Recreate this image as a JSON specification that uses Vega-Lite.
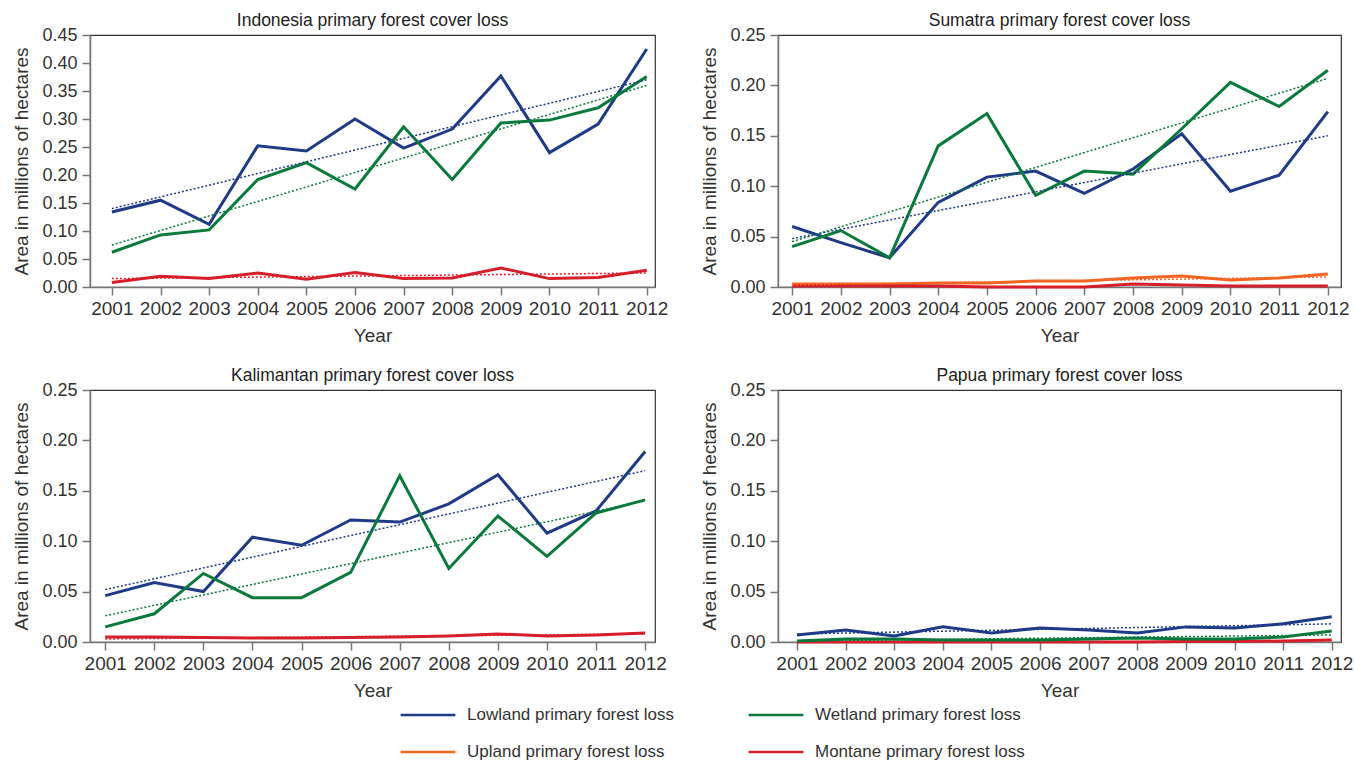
{
  "$schema": "https://vega.github.io/schema/vega-lite/v6.json",
  "background": "white",
  "padding": {"left": 12, "top": 10, "right": 5, "bottom": 0},
  "datasets": {
    "obs": [
      {"region": "Indonesia", "series": "Lowland primary forest loss", "year": 2001, "value": 0.134},
      {"region": "Indonesia", "series": "Lowland primary forest loss", "year": 2002, "value": 0.155},
      {"region": "Indonesia", "series": "Lowland primary forest loss", "year": 2003, "value": 0.112},
      {"region": "Indonesia", "series": "Lowland primary forest loss", "year": 2004, "value": 0.252},
      {"region": "Indonesia", "series": "Lowland primary forest loss", "year": 2005, "value": 0.243},
      {"region": "Indonesia", "series": "Lowland primary forest loss", "year": 2006, "value": 0.300},
      {"region": "Indonesia", "series": "Lowland primary forest loss", "year": 2007, "value": 0.248},
      {"region": "Indonesia", "series": "Lowland primary forest loss", "year": 2008, "value": 0.282},
      {"region": "Indonesia", "series": "Lowland primary forest loss", "year": 2009, "value": 0.377},
      {"region": "Indonesia", "series": "Lowland primary forest loss", "year": 2010, "value": 0.240},
      {"region": "Indonesia", "series": "Lowland primary forest loss", "year": 2011, "value": 0.291},
      {"region": "Indonesia", "series": "Lowland primary forest loss", "year": 2012, "value": 0.425},
      {"region": "Indonesia", "series": "Wetland primary forest loss", "year": 2001, "value": 0.062},
      {"region": "Indonesia", "series": "Wetland primary forest loss", "year": 2002, "value": 0.093},
      {"region": "Indonesia", "series": "Wetland primary forest loss", "year": 2003, "value": 0.102},
      {"region": "Indonesia", "series": "Wetland primary forest loss", "year": 2004, "value": 0.192},
      {"region": "Indonesia", "series": "Wetland primary forest loss", "year": 2005, "value": 0.222},
      {"region": "Indonesia", "series": "Wetland primary forest loss", "year": 2006, "value": 0.175},
      {"region": "Indonesia", "series": "Wetland primary forest loss", "year": 2007, "value": 0.286},
      {"region": "Indonesia", "series": "Wetland primary forest loss", "year": 2008, "value": 0.192},
      {"region": "Indonesia", "series": "Wetland primary forest loss", "year": 2009, "value": 0.293},
      {"region": "Indonesia", "series": "Wetland primary forest loss", "year": 2010, "value": 0.298},
      {"region": "Indonesia", "series": "Wetland primary forest loss", "year": 2011, "value": 0.320},
      {"region": "Indonesia", "series": "Wetland primary forest loss", "year": 2012, "value": 0.376},
      {"region": "Indonesia", "series": "Montane primary forest loss", "year": 2001, "value": 0.008},
      {"region": "Indonesia", "series": "Montane primary forest loss", "year": 2002, "value": 0.019},
      {"region": "Indonesia", "series": "Montane primary forest loss", "year": 2003, "value": 0.015},
      {"region": "Indonesia", "series": "Montane primary forest loss", "year": 2004, "value": 0.025},
      {"region": "Indonesia", "series": "Montane primary forest loss", "year": 2005, "value": 0.014},
      {"region": "Indonesia", "series": "Montane primary forest loss", "year": 2006, "value": 0.026},
      {"region": "Indonesia", "series": "Montane primary forest loss", "year": 2007, "value": 0.015},
      {"region": "Indonesia", "series": "Montane primary forest loss", "year": 2008, "value": 0.016},
      {"region": "Indonesia", "series": "Montane primary forest loss", "year": 2009, "value": 0.034},
      {"region": "Indonesia", "series": "Montane primary forest loss", "year": 2010, "value": 0.015},
      {"region": "Indonesia", "series": "Montane primary forest loss", "year": 2011, "value": 0.017},
      {"region": "Indonesia", "series": "Montane primary forest loss", "year": 2012, "value": 0.030},

      {"region": "Sumatra", "series": "Upland primary forest loss", "year": 2001, "value": 0.003},
      {"region": "Sumatra", "series": "Upland primary forest loss", "year": 2002, "value": 0.003},
      {"region": "Sumatra", "series": "Upland primary forest loss", "year": 2003, "value": 0.003},
      {"region": "Sumatra", "series": "Upland primary forest loss", "year": 2004, "value": 0.004},
      {"region": "Sumatra", "series": "Upland primary forest loss", "year": 2005, "value": 0.004},
      {"region": "Sumatra", "series": "Upland primary forest loss", "year": 2006, "value": 0.006},
      {"region": "Sumatra", "series": "Upland primary forest loss", "year": 2007, "value": 0.006},
      {"region": "Sumatra", "series": "Upland primary forest loss", "year": 2008, "value": 0.009},
      {"region": "Sumatra", "series": "Upland primary forest loss", "year": 2009, "value": 0.011},
      {"region": "Sumatra", "series": "Upland primary forest loss", "year": 2010, "value": 0.007},
      {"region": "Sumatra", "series": "Upland primary forest loss", "year": 2011, "value": 0.009},
      {"region": "Sumatra", "series": "Upland primary forest loss", "year": 2012, "value": 0.013},
      {"region": "Sumatra", "series": "Montane primary forest loss", "year": 2001, "value": 0.001},
      {"region": "Sumatra", "series": "Montane primary forest loss", "year": 2002, "value": 0.001},
      {"region": "Sumatra", "series": "Montane primary forest loss", "year": 2003, "value": 0.001},
      {"region": "Sumatra", "series": "Montane primary forest loss", "year": 2004, "value": 0.001},
      {"region": "Sumatra", "series": "Montane primary forest loss", "year": 2005, "value": 0.0},
      {"region": "Sumatra", "series": "Montane primary forest loss", "year": 2006, "value": 0.0},
      {"region": "Sumatra", "series": "Montane primary forest loss", "year": 2007, "value": 0.0},
      {"region": "Sumatra", "series": "Montane primary forest loss", "year": 2008, "value": 0.003},
      {"region": "Sumatra", "series": "Montane primary forest loss", "year": 2009, "value": 0.002},
      {"region": "Sumatra", "series": "Montane primary forest loss", "year": 2010, "value": 0.001},
      {"region": "Sumatra", "series": "Montane primary forest loss", "year": 2011, "value": 0.001},
      {"region": "Sumatra", "series": "Montane primary forest loss", "year": 2012, "value": 0.001},
      {"region": "Sumatra", "series": "Lowland primary forest loss", "year": 2001, "value": 0.060},
      {"region": "Sumatra", "series": "Lowland primary forest loss", "year": 2002, "value": 0.044},
      {"region": "Sumatra", "series": "Lowland primary forest loss", "year": 2003, "value": 0.029},
      {"region": "Sumatra", "series": "Lowland primary forest loss", "year": 2004, "value": 0.084},
      {"region": "Sumatra", "series": "Lowland primary forest loss", "year": 2005, "value": 0.109},
      {"region": "Sumatra", "series": "Lowland primary forest loss", "year": 2006, "value": 0.115},
      {"region": "Sumatra", "series": "Lowland primary forest loss", "year": 2007, "value": 0.093},
      {"region": "Sumatra", "series": "Lowland primary forest loss", "year": 2008, "value": 0.117},
      {"region": "Sumatra", "series": "Lowland primary forest loss", "year": 2009, "value": 0.152},
      {"region": "Sumatra", "series": "Lowland primary forest loss", "year": 2010, "value": 0.095},
      {"region": "Sumatra", "series": "Lowland primary forest loss", "year": 2011, "value": 0.111},
      {"region": "Sumatra", "series": "Lowland primary forest loss", "year": 2012, "value": 0.174},
      {"region": "Sumatra", "series": "Wetland primary forest loss", "year": 2001, "value": 0.040},
      {"region": "Sumatra", "series": "Wetland primary forest loss", "year": 2002, "value": 0.056},
      {"region": "Sumatra", "series": "Wetland primary forest loss", "year": 2003, "value": 0.029},
      {"region": "Sumatra", "series": "Wetland primary forest loss", "year": 2004, "value": 0.140},
      {"region": "Sumatra", "series": "Wetland primary forest loss", "year": 2005, "value": 0.172},
      {"region": "Sumatra", "series": "Wetland primary forest loss", "year": 2006, "value": 0.091},
      {"region": "Sumatra", "series": "Wetland primary forest loss", "year": 2007, "value": 0.115},
      {"region": "Sumatra", "series": "Wetland primary forest loss", "year": 2008, "value": 0.112},
      {"region": "Sumatra", "series": "Wetland primary forest loss", "year": 2009, "value": 0.157},
      {"region": "Sumatra", "series": "Wetland primary forest loss", "year": 2010, "value": 0.203},
      {"region": "Sumatra", "series": "Wetland primary forest loss", "year": 2011, "value": 0.179},
      {"region": "Sumatra", "series": "Wetland primary forest loss", "year": 2012, "value": 0.215},

      {"region": "Kalimantan", "series": "Montane primary forest loss", "year": 2001, "value": 0.005},
      {"region": "Kalimantan", "series": "Montane primary forest loss", "year": 2002, "value": 0.005},
      {"region": "Kalimantan", "series": "Montane primary forest loss", "year": 2003, "value": 0.0045},
      {"region": "Kalimantan", "series": "Montane primary forest loss", "year": 2004, "value": 0.004},
      {"region": "Kalimantan", "series": "Montane primary forest loss", "year": 2005, "value": 0.004},
      {"region": "Kalimantan", "series": "Montane primary forest loss", "year": 2006, "value": 0.0045},
      {"region": "Kalimantan", "series": "Montane primary forest loss", "year": 2007, "value": 0.005},
      {"region": "Kalimantan", "series": "Montane primary forest loss", "year": 2008, "value": 0.006},
      {"region": "Kalimantan", "series": "Montane primary forest loss", "year": 2009, "value": 0.008},
      {"region": "Kalimantan", "series": "Montane primary forest loss", "year": 2010, "value": 0.006},
      {"region": "Kalimantan", "series": "Montane primary forest loss", "year": 2011, "value": 0.007},
      {"region": "Kalimantan", "series": "Montane primary forest loss", "year": 2012, "value": 0.009},
      {"region": "Kalimantan", "series": "Lowland primary forest loss", "year": 2001, "value": 0.046},
      {"region": "Kalimantan", "series": "Lowland primary forest loss", "year": 2002, "value": 0.059},
      {"region": "Kalimantan", "series": "Lowland primary forest loss", "year": 2003, "value": 0.050},
      {"region": "Kalimantan", "series": "Lowland primary forest loss", "year": 2004, "value": 0.104},
      {"region": "Kalimantan", "series": "Lowland primary forest loss", "year": 2005, "value": 0.096},
      {"region": "Kalimantan", "series": "Lowland primary forest loss", "year": 2006, "value": 0.121},
      {"region": "Kalimantan", "series": "Lowland primary forest loss", "year": 2007, "value": 0.119},
      {"region": "Kalimantan", "series": "Lowland primary forest loss", "year": 2008, "value": 0.137},
      {"region": "Kalimantan", "series": "Lowland primary forest loss", "year": 2009, "value": 0.166},
      {"region": "Kalimantan", "series": "Lowland primary forest loss", "year": 2010, "value": 0.108},
      {"region": "Kalimantan", "series": "Lowland primary forest loss", "year": 2011, "value": 0.130},
      {"region": "Kalimantan", "series": "Lowland primary forest loss", "year": 2012, "value": 0.189},
      {"region": "Kalimantan", "series": "Wetland primary forest loss", "year": 2001, "value": 0.015},
      {"region": "Kalimantan", "series": "Wetland primary forest loss", "year": 2002, "value": 0.028},
      {"region": "Kalimantan", "series": "Wetland primary forest loss", "year": 2003, "value": 0.068},
      {"region": "Kalimantan", "series": "Wetland primary forest loss", "year": 2004, "value": 0.044},
      {"region": "Kalimantan", "series": "Wetland primary forest loss", "year": 2005, "value": 0.044},
      {"region": "Kalimantan", "series": "Wetland primary forest loss", "year": 2006, "value": 0.069},
      {"region": "Kalimantan", "series": "Wetland primary forest loss", "year": 2007, "value": 0.165},
      {"region": "Kalimantan", "series": "Wetland primary forest loss", "year": 2008, "value": 0.073},
      {"region": "Kalimantan", "series": "Wetland primary forest loss", "year": 2009, "value": 0.125},
      {"region": "Kalimantan", "series": "Wetland primary forest loss", "year": 2010, "value": 0.085},
      {"region": "Kalimantan", "series": "Wetland primary forest loss", "year": 2011, "value": 0.128},
      {"region": "Kalimantan", "series": "Wetland primary forest loss", "year": 2012, "value": 0.141},

      {"region": "Papua", "series": "Montane primary forest loss", "year": 2001, "value": 0.0},
      {"region": "Papua", "series": "Montane primary forest loss", "year": 2002, "value": 0.0},
      {"region": "Papua", "series": "Montane primary forest loss", "year": 2003, "value": 0.0},
      {"region": "Papua", "series": "Montane primary forest loss", "year": 2004, "value": 0.0},
      {"region": "Papua", "series": "Montane primary forest loss", "year": 2005, "value": 0.0},
      {"region": "Papua", "series": "Montane primary forest loss", "year": 2006, "value": 0.0},
      {"region": "Papua", "series": "Montane primary forest loss", "year": 2007, "value": 0.0},
      {"region": "Papua", "series": "Montane primary forest loss", "year": 2008, "value": 0.0},
      {"region": "Papua", "series": "Montane primary forest loss", "year": 2009, "value": 0.0005},
      {"region": "Papua", "series": "Montane primary forest loss", "year": 2010, "value": 0.0005},
      {"region": "Papua", "series": "Montane primary forest loss", "year": 2011, "value": 0.001},
      {"region": "Papua", "series": "Montane primary forest loss", "year": 2012, "value": 0.002},
      {"region": "Papua", "series": "Wetland primary forest loss", "year": 2001, "value": 0.001},
      {"region": "Papua", "series": "Wetland primary forest loss", "year": 2002, "value": 0.003},
      {"region": "Papua", "series": "Wetland primary forest loss", "year": 2003, "value": 0.003},
      {"region": "Papua", "series": "Wetland primary forest loss", "year": 2004, "value": 0.002},
      {"region": "Papua", "series": "Wetland primary forest loss", "year": 2005, "value": 0.002},
      {"region": "Papua", "series": "Wetland primary forest loss", "year": 2006, "value": 0.002},
      {"region": "Papua", "series": "Wetland primary forest loss", "year": 2007, "value": 0.003},
      {"region": "Papua", "series": "Wetland primary forest loss", "year": 2008, "value": 0.004},
      {"region": "Papua", "series": "Wetland primary forest loss", "year": 2009, "value": 0.003},
      {"region": "Papua", "series": "Wetland primary forest loss", "year": 2010, "value": 0.003},
      {"region": "Papua", "series": "Wetland primary forest loss", "year": 2011, "value": 0.005},
      {"region": "Papua", "series": "Wetland primary forest loss", "year": 2012, "value": 0.011},
      {"region": "Papua", "series": "Lowland primary forest loss", "year": 2001, "value": 0.007},
      {"region": "Papua", "series": "Lowland primary forest loss", "year": 2002, "value": 0.012},
      {"region": "Papua", "series": "Lowland primary forest loss", "year": 2003, "value": 0.006},
      {"region": "Papua", "series": "Lowland primary forest loss", "year": 2004, "value": 0.015},
      {"region": "Papua", "series": "Lowland primary forest loss", "year": 2005, "value": 0.009},
      {"region": "Papua", "series": "Lowland primary forest loss", "year": 2006, "value": 0.014},
      {"region": "Papua", "series": "Lowland primary forest loss", "year": 2007, "value": 0.012},
      {"region": "Papua", "series": "Lowland primary forest loss", "year": 2008, "value": 0.009},
      {"region": "Papua", "series": "Lowland primary forest loss", "year": 2009, "value": 0.015},
      {"region": "Papua", "series": "Lowland primary forest loss", "year": 2010, "value": 0.014},
      {"region": "Papua", "series": "Lowland primary forest loss", "year": 2011, "value": 0.018},
      {"region": "Papua", "series": "Lowland primary forest loss", "year": 2012, "value": 0.025}
    ],
    "trend": [
      {"region": "Indonesia", "series": "Lowland primary forest loss", "year": 2001, "value": 0.140},
      {"region": "Indonesia", "series": "Lowland primary forest loss", "year": 2012, "value": 0.370},
      {"region": "Indonesia", "series": "Wetland primary forest loss", "year": 2001, "value": 0.075},
      {"region": "Indonesia", "series": "Wetland primary forest loss", "year": 2012, "value": 0.360},
      {"region": "Indonesia", "series": "Montane primary forest loss", "year": 2001, "value": 0.015},
      {"region": "Indonesia", "series": "Montane primary forest loss", "year": 2012, "value": 0.025},
      {"region": "Sumatra", "series": "Lowland primary forest loss", "year": 2001, "value": 0.048},
      {"region": "Sumatra", "series": "Lowland primary forest loss", "year": 2012, "value": 0.150},
      {"region": "Sumatra", "series": "Wetland primary forest loss", "year": 2001, "value": 0.045},
      {"region": "Sumatra", "series": "Wetland primary forest loss", "year": 2012, "value": 0.207},
      {"region": "Sumatra", "series": "Upland primary forest loss", "year": 2001, "value": 0.002},
      {"region": "Sumatra", "series": "Upland primary forest loss", "year": 2012, "value": 0.010},
      {"region": "Kalimantan", "series": "Lowland primary forest loss", "year": 2001, "value": 0.052},
      {"region": "Kalimantan", "series": "Lowland primary forest loss", "year": 2012, "value": 0.170},
      {"region": "Kalimantan", "series": "Wetland primary forest loss", "year": 2001, "value": 0.026},
      {"region": "Kalimantan", "series": "Wetland primary forest loss", "year": 2012, "value": 0.140},
      {"region": "Kalimantan", "series": "Montane primary forest loss", "year": 2001, "value": 0.003},
      {"region": "Kalimantan", "series": "Montane primary forest loss", "year": 2012, "value": 0.008},
      {"region": "Papua", "series": "Lowland primary forest loss", "year": 2001, "value": 0.008},
      {"region": "Papua", "series": "Lowland primary forest loss", "year": 2012, "value": 0.018},
      {"region": "Papua", "series": "Wetland primary forest loss", "year": 2001, "value": 0.001},
      {"region": "Papua", "series": "Wetland primary forest loss", "year": 2012, "value": 0.007}
    ]
  },
  "config": {
    "font": "Liberation Sans",
    "view": {"stroke": "#333333", "strokeWidth": 1.2},
    "axis": {
      "grid": false,
      "domainColor": "#777777",
      "domainWidth": 1.5,
      "tickColor": "#777777",
      "tickWidth": 1.5,
      "tickSize": 8,
      "labelFont": "Liberation Sans",
      "labelFontSize": 18,
      "labelColor": "#333333",
      "labelOverlap": false,
      "titleFont": "Liberation Sans",
      "titleFontSize": 19,
      "titleFontWeight": "normal",
      "titleColor": "#333333"
    },
    "axisX": {"labelPadding": 4, "titlePadding": 8, "labelFlush": false, "labelFontSize": 19},
    "axisY": {"labelPadding": 5, "titlePadding": 10},
    "title": {"fontSize": 17.5, "fontWeight": "normal", "color": "#222222", "offset": -3, "font": "Liberation Sans"},
    "legend": {"labelFont": "Liberation Sans"}
  },
  "columns": 2,
  "bounds": "flush",
  "spacing": {"row": 103, "column": 123},
  "resolve": {"scale": {"color": "shared"}, "legend": {"color": "shared"}},
  "concat": [
    {
      "title": "Indonesia primary forest cover loss",
      "width": 565, "height": 252,
      "encoding": {
        "x": {"field": "year", "type": "quantitative", "title": "Year", "scale": {"domain": [2000.55, 2012.17], "nice": false, "zero": false}, "axis": {"values": [2001,2002,2003,2004,2005,2006,2007,2008,2009,2010,2011,2012], "format": "d", "labelOverlap": false}},
        "y": {"field": "value", "type": "quantitative", "title": "Area in millions of hectares", "scale": {"domain": [0, 0.45], "nice": false}, "axis": {"values": [0,0.05,0.1,0.15,0.2,0.25,0.3,0.35,0.4,0.45], "tickCount": 10, "format": ".2f", "labelOverlap": false}}
      },
      "layer": [
        {
          "data": {"name": "obs"},
          "transform": [{"filter": "datum.region === 'Indonesia'"}],
          "mark": {"type": "line", "strokeWidth": 3},
          "encoding": {
            "color": {"field": "series", "type": "nominal",
              "scale": {"domain": ["Lowland primary forest loss", "Wetland primary forest loss", "Upland primary forest loss", "Montane primary forest loss"], "range": ["#1f3a87", "#0a7a3c", "#f26522", "#d71e2b"]},
              "legend": {"orient": "none", "legendX": 309, "legendY": 651, "title": null, "columns": 2, "direction": "horizontal", "symbolType": "stroke", "symbolSize": 3000, "symbolStrokeWidth": 2.5, "labelFontSize": 17, "labelColor": "#333333", "labelOffset": 10, "columnPadding": 69, "rowPadding": 0, "labelLimit": 400}}
          }
        },
        {
          "data": {"name": "trend"},
          "transform": [{"filter": "datum.region === 'Indonesia'"}],
          "mark": {"type": "line", "strokeWidth": 1.5, "strokeDash": [2, 2]},
          "encoding": {
            "color": {"field": "series", "type": "nominal", "legend": null}
          }
        }
      ]
    },
    {
      "title": "Sumatra primary forest cover loss",
      "width": 563, "height": 252,
      "encoding": {
        "x": {"field": "year", "type": "quantitative", "title": "Year", "scale": {"domain": [2000.71, 2012.27], "nice": false, "zero": false}, "axis": {"values": [2001,2002,2003,2004,2005,2006,2007,2008,2009,2010,2011,2012], "format": "d"}},
        "y": {"field": "value", "type": "quantitative", "title": "Area in millions of hectares", "scale": {"domain": [0, 0.25], "nice": false}, "axis": {"values": [0,0.05,0.1,0.15,0.2,0.25], "format": ".2f"}}
      },
      "layer": [
        {
          "data": {"name": "obs"},
          "transform": [{"filter": "datum.region === 'Sumatra'"}],
          "mark": {"type": "line", "strokeWidth": 3},
          "encoding": {"color": {"field": "series", "type": "nominal"}}
        },
        {
          "data": {"name": "trend"},
          "transform": [{"filter": "datum.region === 'Sumatra'"}],
          "mark": {"type": "line", "strokeWidth": 1.5, "strokeDash": [2, 2]},
          "encoding": {"color": {"field": "series", "type": "nominal", "legend": null}}
        }
      ]
    },
    {
      "title": "Kalimantan primary forest cover loss",
      "width": 565, "height": 252,
      "encoding": {
        "x": {"field": "year", "type": "quantitative", "title": "Year", "scale": {"domain": [2000.69, 2012.2], "nice": false, "zero": false}, "axis": {"values": [2001,2002,2003,2004,2005,2006,2007,2008,2009,2010,2011,2012], "format": "d"}},
        "y": {"field": "value", "type": "quantitative", "title": "Area in millions of hectares", "scale": {"domain": [0, 0.25], "nice": false}, "axis": {"values": [0,0.05,0.1,0.15,0.2,0.25], "format": ".2f"}}
      },
      "layer": [
        {
          "data": {"name": "obs"},
          "transform": [{"filter": "datum.region === 'Kalimantan'"}],
          "mark": {"type": "line", "strokeWidth": 3},
          "encoding": {"color": {"field": "series", "type": "nominal"}}
        },
        {
          "data": {"name": "trend"},
          "transform": [{"filter": "datum.region === 'Kalimantan'"}],
          "mark": {"type": "line", "strokeWidth": 1.5, "strokeDash": [2, 2]},
          "encoding": {"color": {"field": "series", "type": "nominal", "legend": null}}
        }
      ]
    },
    {
      "title": "Papua primary forest cover loss",
      "width": 563, "height": 252,
      "encoding": {
        "x": {"field": "year", "type": "quantitative", "title": "Year", "scale": {"domain": [2000.61, 2012.19], "nice": false, "zero": false}, "axis": {"values": [2001,2002,2003,2004,2005,2006,2007,2008,2009,2010,2011,2012], "format": "d"}},
        "y": {"field": "value", "type": "quantitative", "title": "Area in millions of hectares", "scale": {"domain": [0, 0.25], "nice": false}, "axis": {"values": [0,0.05,0.1,0.15,0.2,0.25], "format": ".2f"}}
      },
      "layer": [
        {
          "data": {"name": "obs"},
          "transform": [{"filter": "datum.region === 'Papua'"}],
          "mark": {"type": "line", "strokeWidth": 3},
          "encoding": {"color": {"field": "series", "type": "nominal"}}
        },
        {
          "data": {"name": "trend"},
          "transform": [{"filter": "datum.region === 'Papua'"}],
          "mark": {"type": "line", "strokeWidth": 1.5, "strokeDash": [2, 2]},
          "encoding": {"color": {"field": "series", "type": "nominal", "legend": null}}
        }
      ]
    }
  ]
}
